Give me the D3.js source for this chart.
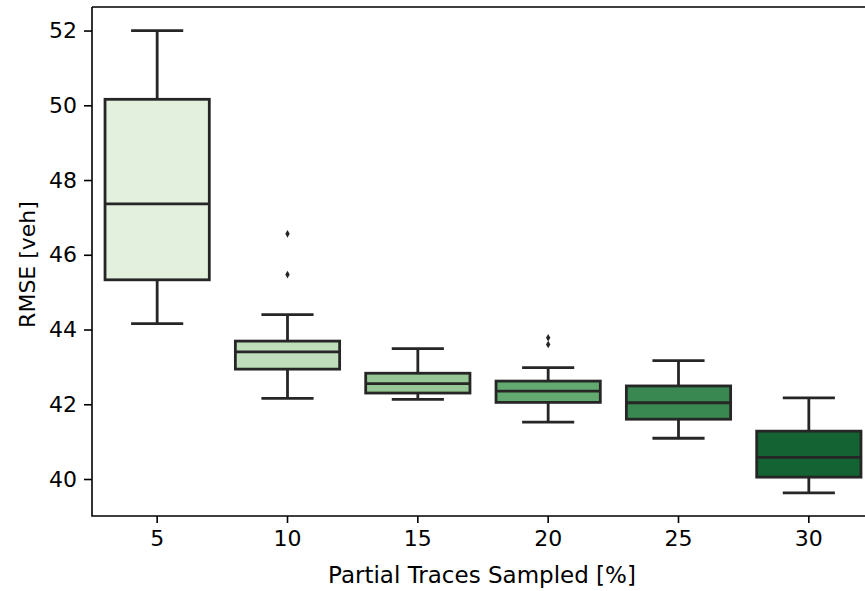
<!DOCTYPE html>
<html>
<head>
<meta charset="utf-8">
<script src="https://cdn.jsdelivr.net/npm/d3@7"></script>
<style>
  html, body { margin: 0; padding: 0; background: #fff; }
  svg { display: block; font-family: "DejaVu Sans", sans-serif; }
</style>
</head>
<body>
<svg id="chart" width="865" height="591"></svg>
<script>
// Box statistics per sampling share
const categories  = ["5", "10", "15", "20", "25", "30"];
const whiskerLow  = [44.16, 42.16, 42.13, 41.52, 41.09, 39.63];
const q1          = [45.33, 42.94, 42.30, 42.05, 41.60, 40.05];
const median      = [47.36, 43.40, 42.55, 42.35, 42.04, 40.58];
const q3          = [50.16, 43.69, 42.83, 42.62, 42.49, 41.28];
const whiskerHigh = [52.00, 44.40, 43.49, 42.98, 43.17, 42.17];
const outliers    = [[], [45.47, 46.56], [], [43.60, 43.78], [], []];
const yTicks      = [40, 42, 44, 46, 48, 50, 52];

// Greens colormap stops, sampled and desaturated as in a seaborn box plot
const greenStops = ["#f7fcf5", "#e5f5e0", "#c7e9c0", "#a1d99b", "#74c476",
                    "#41ab5d", "#238b45", "#006d2c", "#00441b"];
const greens = d3.scaleLinear()
  .domain(greenStops.map((_, i) => i / (greenStops.length - 1)))
  .range(greenStops)
  .interpolate(d3.interpolateRgb);
const fills = categories.map((_, i) => {
  const c = d3.hsl(greens((i + 1) / (categories.length + 1)));
  c.s *= 0.75;
  return c.formatHex();
});

const svg = d3.select("#chart");
const margin = { left: 92, top: 7, bottom: 75 };
const plotRight = 874;            // axes extend slightly past the canvas edge
const height = 591;
const fontSize = "22px";

const x = d3.scaleBand()
  .domain(categories)
  .range([margin.left, plotRight])
  .paddingInner(0).paddingOuter(0);

const y = d3.scaleLinear()
  .domain([39.01, 52.63])
  .range([height - margin.bottom, margin.top]);

const line = "#262626";
const lw = 2.8;
const boxW = x.bandwidth() * 0.8;
const capW = boxW / 2;

const g = svg.append("g");

categories.forEach((cat, i) => {
  const cx = x(cat) + x.bandwidth() / 2;
  const grp = g.append("g");
  // whiskers
  grp.append("line")
    .attr("x1", cx).attr("x2", cx)
    .attr("y1", y(q3[i])).attr("y2", y(whiskerHigh[i]))
    .attr("stroke", line).attr("stroke-width", lw);
  grp.append("line")
    .attr("x1", cx).attr("x2", cx)
    .attr("y1", y(q1[i])).attr("y2", y(whiskerLow[i]))
    .attr("stroke", line).attr("stroke-width", lw);
  // caps
  [whiskerHigh[i], whiskerLow[i]].forEach(v => {
    grp.append("line")
      .attr("x1", cx - capW / 2).attr("x2", cx + capW / 2)
      .attr("y1", y(v)).attr("y2", y(v))
      .attr("stroke", line).attr("stroke-width", lw);
  });
  // box
  grp.append("rect")
    .attr("x", cx - boxW / 2)
    .attr("y", y(q3[i]))
    .attr("width", boxW)
    .attr("height", y(q1[i]) - y(q3[i]))
    .attr("fill", fills[i])
    .attr("stroke", line).attr("stroke-width", lw);
  // median
  grp.append("line")
    .attr("x1", cx - boxW / 2).attr("x2", cx + boxW / 2)
    .attr("y1", y(median[i])).attr("y2", y(median[i]))
    .attr("stroke", line).attr("stroke-width", lw);
  // outliers (thin diamonds)
  outliers[i].forEach(v => {
    grp.append("path")
      .attr("d", `M${cx},${y(v) - 3.8}L${cx + 2.2},${y(v)}L${cx},${y(v) + 3.8}L${cx - 2.2},${y(v)}Z`)
      .attr("fill", line);
  });
});

// axes
const yAxis = d3.axisLeft(y).tickValues(yTicks).tickSize(8).tickPadding(7)
  .tickFormat(d3.format("d"));
const xAxis = d3.axisBottom(x).tickSize(7).tickPadding(7);

const ya = svg.append("g")
  .attr("transform", `translate(${margin.left},0)`)
  .call(yAxis);
const xa = svg.append("g")
  .attr("transform", `translate(0,${height - margin.bottom})`)
  .call(xAxis);

[ya, xa].forEach(a => {
  a.select(".domain").remove();
  a.selectAll(".tick line").attr("stroke", "#000").attr("stroke-width", 1.6);
  a.selectAll(".tick text")
    .attr("fill", "#000")
    .style("font-size", fontSize)
    .style("font-family", "'DejaVu Sans', sans-serif");
});

// spines
const spine = svg.append("g").attr("stroke", "#000").attr("stroke-width", 1.6)
  .attr("fill", "none");
spine.append("path")
  .attr("d", `M${margin.left},${margin.top}V${height - margin.bottom}H${plotRight}`);
spine.append("path")
  .attr("d", `M${margin.left},${margin.top}H${plotRight}V${height - margin.bottom}`);

// axis titles
svg.append("text")
  .attr("x", 482)
  .attr("y", 583)
  .attr("text-anchor", "middle")
  .style("font-size", "23px")
  .text("Partial Traces Sampled [%]");

svg.append("text")
  .attr("transform", `translate(35,${(margin.top + height - margin.bottom) / 2 + 3}) rotate(-90)`)
  .attr("text-anchor", "middle")
  .style("font-size", fontSize)
  .text("RMSE [veh]");
</script>
</body>
</html>
